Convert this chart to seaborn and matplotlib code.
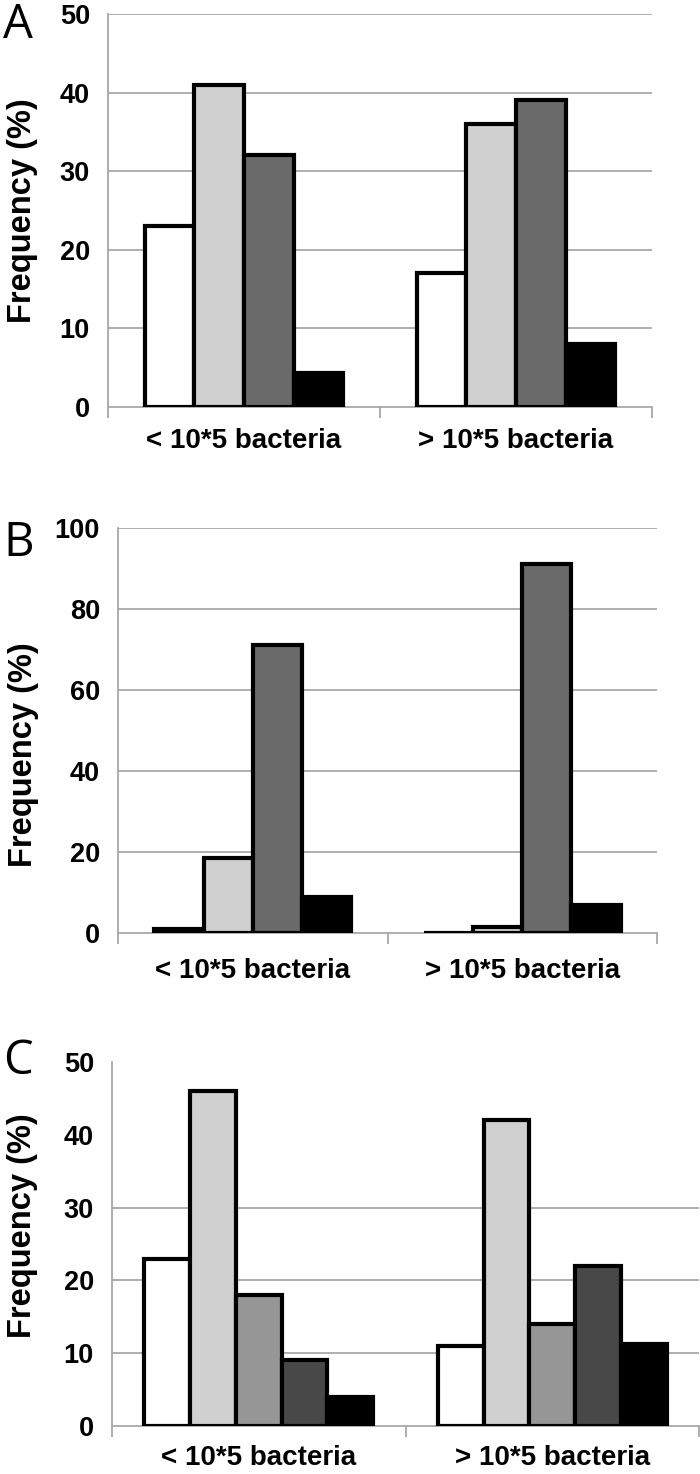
import pandas as pd
import matplotlib.pyplot as plt
import seaborn as sns

# -------------------
# Data
# -------------------
groups = ['< 10*5 bacteria', '> 10*5 bacteria']

# Panel A: four classes
a_classes = ['class 1', 'class 2', 'class 3', 'class 4']
a_low = [23, 41, 32, 4.3]
a_high = [17, 36, 39, 8]
a_colors = ['#ffffff', '#d0d0d0', '#6a6a6a', '#000000']

# Panel B: four classes
b_classes = ['class 1', 'class 2', 'class 3', 'class 4']
b_low = [1, 18.5, 71, 9]
b_high = [0, 1.5, 91, 7]
b_colors = ['#ffffff', '#d0d0d0', '#6a6a6a', '#000000']

# Panel C: five classes
c_classes = ['class 1', 'class 2', 'class 3', 'class 4', 'class 5']
c_low = [23, 46, 18, 9, 4]
c_high = [11, 42, 14, 22, 11.3]
c_colors = ['#ffffff', '#d0d0d0', '#969696', '#484848', '#000000']

# -------------------
# Style
# -------------------
sns.set_style("white")
plt.rcParams['font.family'] = ['Liberation Sans', 'DejaVu Sans']
plt.rcParams['font.weight'] = 'bold'

GRAY = '#a8a8a8'
H = 1474.0
W = 700.0

fig = plt.figure(figsize=(7, 14.74), dpi=100)


def draw_panel(rect, letter, letter_y, classes, low, high, colors, ymax, step,
               grid_max, width, label_x, label_y, xpad):
    left, right, top, bottom = rect
    ax = fig.add_axes([left / W, (H - bottom) / H, (right - left) / W, (bottom - top) / H])
    df = pd.DataFrame({
        'group': [groups[0]] * len(classes) + [groups[1]] * len(classes),
        'cls': classes * 2,
        'freq': low + high,
    })
    sns.barplot(data=df, x='group', y='freq', hue='cls', order=groups, hue_order=classes,
                palette=colors, saturation=1, width=width, edgecolor='black',
                linewidth=3, legend=False, ax=ax, zorder=3)
    ax.set_xlim(-0.5, 1.5)
    ax.set_ylim(0, ymax)
    ax.set_yticks(list(range(0, ymax + 1, step)))
    ax.set_xlabel('')
    ax.set_ylabel('Frequency (%)', fontsize=23.5, fontweight='bold', color='black')
    ax.yaxis.set_label_coords(label_x, label_y)

    for side in ['top', 'right']:
        ax.spines[side].set_visible(False)
    for side in ['left', 'bottom']:
        ax.spines[side].set_color(GRAY)
        ax.spines[side].set_linewidth(1.3)

    # horizontal gridlines (panel C only has them up to 30)
    ax.grid(False)
    grid_levels = list(range(step, grid_max + 1, step))
    ax.hlines(grid_levels, -0.5, 1.5, color=GRAY, linewidth=1.3, zorder=1)

    ax.tick_params(axis='y', which='major', left=False, length=0, pad=13,
                   labelsize=19.5, labelcolor='black')
    ax.set_yticks([0] + grid_levels, minor=True)
    ax.tick_params(axis='y', which='minor', left=True, length=9, width=1.3,
                   color=GRAY)
    ax.set_xticks([-0.5, 0.5, 1.5], minor=True)
    ax.tick_params(axis='x', which='minor', bottom=True, length=8, width=1.3,
                   color=GRAY)
    ax.tick_params(axis='x', which='major', bottom=False, length=0, pad=xpad,
                   labelsize=20, labelcolor='black')

    fig.text(3 / W, (H - letter_y) / H, letter, family=['Open Sans', 'DejaVu Sans'],
             fontweight='normal', fontsize=34, ha='left', va='top', color='black')
    return ax


draw_panel((108, 652, 14, 407), 'A', 2, a_classes, a_low, a_high, a_colors,
           50, 10, 50, 0.73, -0.129, 0.5, 15)
draw_panel((118, 657, 528, 933), 'B', 520, b_classes, b_low, b_high, b_colors,
           100, 20, 100, 0.73, -0.147, 0.44, 18)
draw_panel((112, 699, 1062, 1426), 'C', 1038, c_classes, c_low, c_high, c_colors,
           50, 10, 30, 0.78, -0.126, 0.55, 14)

plt.savefig("out.png", dpi=100)
plt.close()
